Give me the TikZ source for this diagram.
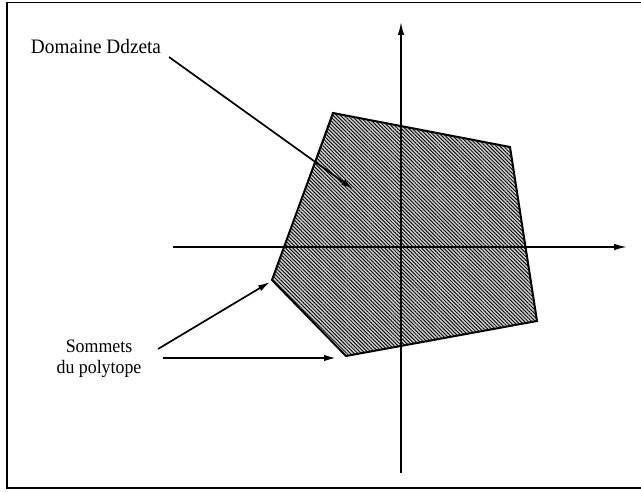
\documentclass[tikz,border=0pt]{standalone}
\usepackage{fontspec}
\setmainfont{Liberation Serif}
\usetikzlibrary{arrows.meta,patterns.meta}
\tikzset{
  lbl/.style={inner sep=0pt, xscale=0.94, font=\fontsize{20.5}{22}\selectfont},
  lbl2/.style={inner sep=0pt, align=center, xscale=0.94, font=\fontsize{19}{21}\selectfont},
  ptr/.style={line width=1.7pt, -{Latex[length=12pt,width=6.5pt]}},
  axis/.style={line width=1.6pt, -{Latex[length=13pt,width=6.5pt]}},
  poly/.style={line width=2pt, line join=miter},
}
\begin{document}
\begin{tikzpicture}[x=1pt,y=-1pt]
\useasboundingbox (0,0) rectangle (641,492);
% frame
\draw[line width=1.5pt] (641,2.5) -- (7,2.5) -- (7,488) -- (641,488);
% polygon vertices
\coordinate (A) at (333,113);
\coordinate (B) at (510,147);
\coordinate (C) at (537,321);
\coordinate (D) at (346,356);
\coordinate (E) at (272,280);
\fill[gray!40] (A) -- (B) -- (C) -- (D) -- (E) -- cycle;
\fill[pattern={Lines[angle=-45,distance=2.6pt,line width=0.85pt]}, pattern color=black] (A) -- (B) -- (C) -- (D) -- (E) -- cycle;
% axes
\coordinate (ybot) at (401,473);
\coordinate (ytop) at (401,22);
\coordinate (xl) at (173,247);
\coordinate (xr) at (627,247);
\draw[axis] (ybot) -- (ytop);
\draw[axis] (xl) -- (xr);
\draw[poly] (A) -- (B) -- (C) -- (D) -- (E) -- cycle;
% labels
\node[lbl] (dom) at (96,46) {Domaine Ddzeta};
\coordinate (domS) at (169,57);
\coordinate (domT) at (353,189);
\draw[ptr] (domS) -- (domT);
\node[lbl2] (som) at (99,359) {Sommets\\du polytope};
\coordinate (s1) at (158,349);
\coordinate (t1) at (270,282);
\coordinate (s2) at (163,358);
\coordinate (t2) at (336,358);
\draw[ptr] (s1) -- (t1);
\draw[ptr] (s2) -- (t2);
\end{tikzpicture}
\end{document}
